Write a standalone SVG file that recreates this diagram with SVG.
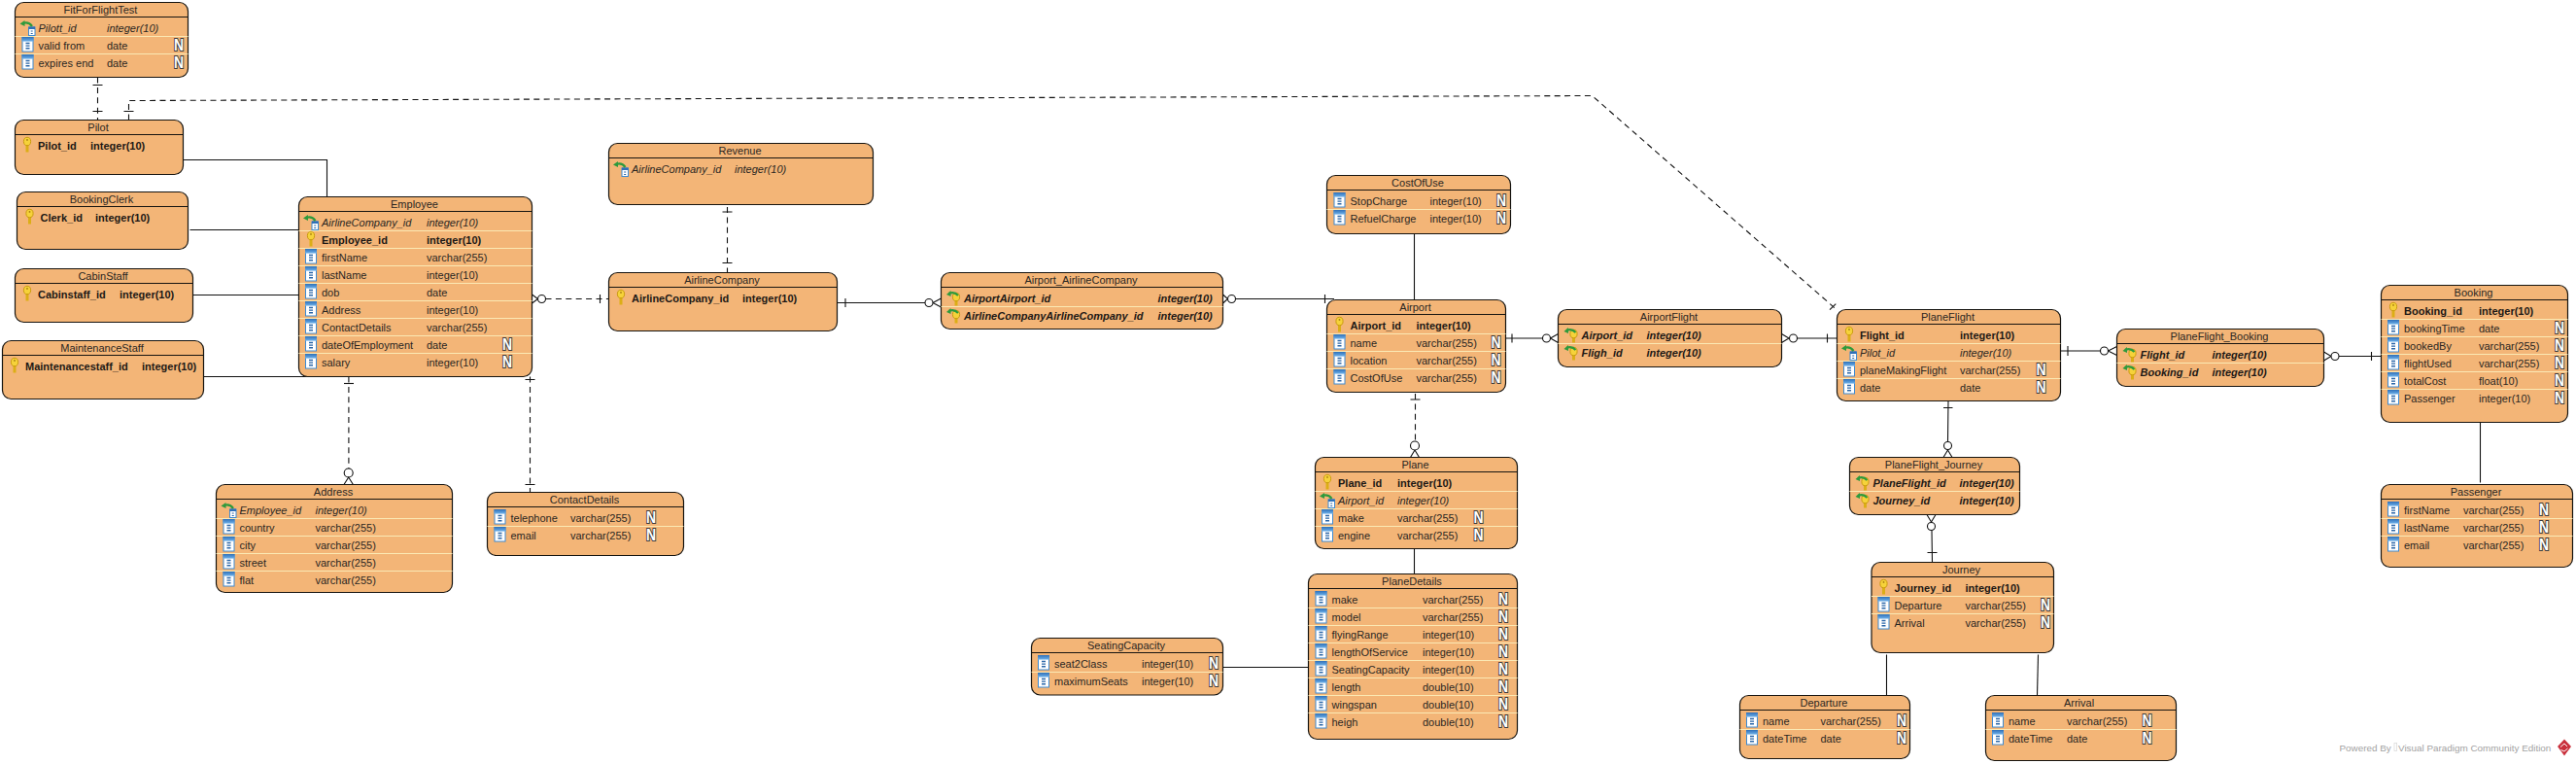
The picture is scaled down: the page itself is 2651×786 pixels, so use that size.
<svg xmlns="http://www.w3.org/2000/svg" width="2651" height="786" viewBox="0 0 2651 786">
<style>
text{font-family:"Liberation Sans",Arial,sans-serif;font-size:11px;fill:#2a2622}
.t{text-anchor:middle}
.b{font-weight:bold;fill:#1c1815}
.i{font-style:italic}
.bi{font-weight:bold;font-style:italic;fill:#1c1815}
.n{font-weight:bold;font-size:17px;fill:#fff;stroke:#3c3c3c;stroke-width:2.2px;paint-order:stroke;text-anchor:middle;transform-box:fill-box;transform-origin:center;transform:scaleX(.82)}
.box{fill:#f3b577;stroke:#161410;stroke-width:1.2}
.h{stroke:#161410;stroke-width:1.2}
.r{stroke:#fbe9b4;stroke-width:1}
#connectors path{fill:none;stroke:#111;stroke-width:1.1}
#connectors .d{stroke-dasharray:6 4.4}
#connectors circle{fill:#fff;stroke:#111;stroke-width:1.1}
.w{font-size:9.9px;fill:#a2a2a2}
</style>
<defs>
<linearGradient id="bl" x1="0" y1="0" x2="0" y2="1"><stop offset="0" stop-color="#2f6fb8"/><stop offset="1" stop-color="#6fb2ea"/></linearGradient>
<g id="c"><rect x="2.5" y="1" width="11" height="14.5" fill="#fff" stroke="#3d8ad2"/><rect x="2" y=".5" width="12" height="4.6" fill="url(#bl)"/><path d="M6 7h4M6 9.6h4M6 12.2h4" stroke="#2a66a8" stroke-width="1.4"/></g>
<g id="k"><path d="M8 8v8" stroke="#dcae16" stroke-width="3" fill="none"/><ellipse cx="8" cy="5" rx="3.6" ry="4.2" fill="#f6d23a" stroke="#c99a10"/><circle cx="8" cy="3.4" r=".9" fill="#a67c10"/></g>
<g id="f"><rect x="9" y="8.5" width="6.5" height="8.5" fill="#fff" stroke="#3d8ad2"/><rect x="9" y="8" width="6.5" height="2.5" fill="#2f6fb8"/><path d="M11.2 12.5h2M11.2 15h2" stroke="#2a66a8"/><path d="M3 4.5Q9 2.5 12.5 7.5" fill="none" stroke="#2e9a3c" stroke-width="2.2"/><path d="M0 5 5 1.5 5 7.5Z" fill="#2e9a3c"/></g>
<g id="p"><path d="M11 10v7" stroke="#dcae16" stroke-width="3" fill="none"/><ellipse cx="11" cy="8" rx="3.6" ry="4.2" fill="#f6d23a" stroke="#c99a10"/><path d="M3.5 4.5Q9 2 13 6.5" fill="none" stroke="#2e9a3c" stroke-width="2.2"/><path d="M1 5.5 5.5 1.5 5.5 7.5Z" fill="#2e9a3c"/></g>
</defs>
<rect width="2651" height="786" fill="#fff"/>
<g id="connectors">
<path class="d" d="M100.5 79.5V123.5"/><path d="M95.5 87.5h10M95.5 114.5h10"/>
<path class="d" d="M132.5 123.5V103.5L1638.5 98.5L1890 318.5"/><path d="M127.5 114.5h10M1883 318.7L1889.3 312.7"/>
<path d="M188.5 164.5H336.5V202.5"/>
<path d="M195.5 236.5H307.5"/>
<path d="M198 303.5H307.5"/>
<path d="M209 387.5H340"/>
<path d="M547.5 303L553.5 307.5L547.5 312"/><circle cx="557.5" cy="307.5" r="4"/><path class="d" d="M561.5 307.5H626.5"/><path d="M617.5 303v9"/>
<path class="d" d="M358.9 387.5V482"/><path d="M354 394.5h10"/><circle cx="358.7" cy="486.5" r="4.5"/><path d="M354 498.5L358.7 491L363.4 498.5"/>
<path class="d" d="M545.5 387.5V506.5"/><path d="M540.5 390.5h10M540.5 498.5h10"/>
<path class="d" d="M748.5 213V280.5"/><path d="M743.5 218h10M743.5 270.5h10"/>
<path d="M862 311.5H952M870 307v9M968.5 307L960 311.5L968.5 316"/><circle cx="956" cy="311.5" r="4"/>
<path d="M1258.5 303L1263.5 307.5L1258.5 312M1271.5 307.5H1373M1363.5 303v9"/><circle cx="1267.5" cy="307.5" r="4"/>
<path d="M1455.5 240.5V308.5"/>
<path class="d" d="M1456.5 405V454"/><path d="M1451.5 411h10M1451.5 470.5L1456 463L1460.5 470.5"/><circle cx="1456" cy="458.5" r="4.5"/>
<path d="M1455.5 565V590.5"/>
<path d="M1258 686.5H1347"/>
<path d="M1549.5 348H1587M1556 343.5v9M1603.5 343.5L1595.5 348L1603.5 352.5"/><circle cx="1591.5" cy="348" r="4"/>
<path d="M1833.5 343.5L1841 348L1833.5 352.5M1849.5 348H1890.5M1880.5 343.5v9"/><circle cx="1845.5" cy="348" r="4"/>
<path d="M2005 412.5L2004.5 454M2000 419.5h9.5M2000 470.5L2004.5 463L2009 470.5"/><circle cx="2004.5" cy="458.5" r="4"/>
<path d="M1983 529.5L1987.5 537L1992 529.5M1988 545.5L1988.5 578.5M1983.5 568.5h10"/><circle cx="1987.5" cy="541.5" r="4"/>
<path d="M2120.5 361H2161M2128 356v10M2178.5 356.5L2169.5 361L2178.5 365.5"/><circle cx="2165.5" cy="361" r="4"/>
<path d="M2391.5 362L2399 366.5L2391.5 371M2407 366.5H2450.5M2440.5 362v9"/><circle cx="2403" cy="366.5" r="4"/>
<path d="M2552.5 435V496.5"/>
<path d="M1941.5 673.5V715.5"/>
<path d="M2097.5 673.5L2096.5 715.5"/>
</g>
<g id="FitForFlightTest" transform="translate(15.5 2.5)"><rect class="box" width="178" height="77" rx="9"/><path class="h" d="M0 15h178"/><path class="r" d="M0 35h178M0 53h178"/><text class="t" x="88" y="11.5">FitForFlightTest</text>
<use href="#f" x="5" y="17"/><text class="i" x="24" y="30">Pilott_id</text><text class="i" x="94.5" y="30">integer(10)</text>
<use href="#c" x="5" y="35"/><text x="24" y="48">valid from</text><text x="94.5" y="48">date</text><text class="n" x="168.5" y="50">N</text>
<use href="#c" x="5" y="53"/><text x="24" y="66">expires end</text><text x="94.5" y="66">date</text><text class="n" x="168.5" y="68">N</text></g>
<g id="Pilot" transform="translate(15.5 123.5)"><rect class="box" width="173" height="56" rx="9"/><path class="h" d="M0 15h173"/><text class="t" x="85.5" y="11.5">Pilot</text>
<use href="#k" x="4.5" y="17"/><text class="b" x="23.5" y="30">Pilot_id</text><text class="b" x="77.5" y="30">integer(10)</text></g>
<g id="BookingClerk" transform="translate(17.5 197.5)"><rect class="box" width="176" height="59" rx="9"/><path class="h" d="M0 15h176"/><text class="t" x="87" y="11.5">BookingClerk</text>
<use href="#k" x="5" y="17"/><text class="b" x="24" y="30">Clerk_id</text><text class="b" x="80.5" y="30">integer(10)</text></g>
<g id="CabinStaff" transform="translate(15.5 276.5)"><rect class="box" width="183" height="55" rx="9"/><path class="h" d="M0 15h183"/><text class="t" x="90.5" y="11.5">CabinStaff</text>
<use href="#k" x="4.5" y="17"/><text class="b" x="23.5" y="30">Cabinstaff_id</text><text class="b" x="107.5" y="30">integer(10)</text></g>
<g id="MaintenanceStaff" transform="translate(2.5 350.5)"><rect class="box" width="207" height="60" rx="9"/><path class="h" d="M0 15h207"/><text class="t" x="102.5" y="11.5">MaintenanceStaff</text>
<use href="#k" x="4.5" y="17"/><text class="b" x="23.5" y="30">Maintenancestaff_id</text><text class="b" x="143.5" y="30">integer(10)</text></g>
<g id="Employee" transform="translate(307.5 202.5)"><rect class="box" width="240" height="185" rx="9"/><path class="h" d="M0 15h240"/><path class="r" d="M0 35h240M0 53h240M0 71h240M0 89h240M0 107h240M0 125h240M0 143h240M0 161h240"/><text class="t" x="119" y="11.5">Employee</text>
<use href="#f" x="4.5" y="17"/><text class="i" x="23.5" y="30">AirlineCompany_id</text><text class="i" x="131.5" y="30">integer(10)</text>
<use href="#k" x="4.5" y="35"/><text class="b" x="23.5" y="48">Employee_id</text><text class="b" x="131.5" y="48">integer(10)</text>
<use href="#c" x="4.5" y="53"/><text x="23.5" y="66">firstName</text><text x="131.5" y="66">varchar(255)</text>
<use href="#c" x="4.5" y="71"/><text x="23.5" y="84">lastName</text><text x="131.5" y="84">integer(10)</text>
<use href="#c" x="4.5" y="89"/><text x="23.5" y="102">dob</text><text x="131.5" y="102">date</text>
<use href="#c" x="4.5" y="107"/><text x="23.5" y="120">Address</text><text x="131.5" y="120">integer(10)</text>
<use href="#c" x="4.5" y="125"/><text x="23.5" y="138">ContactDetails</text><text x="131.5" y="138">varchar(255)</text>
<use href="#c" x="4.5" y="143"/><text x="23.5" y="156">dateOfEmployment</text><text x="131.5" y="156">date</text><text class="n" x="214.5" y="158">N</text>
<use href="#c" x="4.5" y="161"/><text x="23.5" y="174">salary</text><text x="131.5" y="174">integer(10)</text><text class="n" x="214.5" y="176">N</text></g>
<g id="Address" transform="translate(222.5 498.5)"><rect class="box" width="243" height="111" rx="9"/><path class="h" d="M0 15h243"/><path class="r" d="M0 35h243M0 53h243M0 71h243M0 89h243"/><text class="t" x="120.5" y="11.5">Address</text>
<use href="#f" x="5" y="17"/><text class="i" x="24" y="30">Employee_id</text><text class="i" x="102" y="30">integer(10)</text>
<use href="#c" x="5" y="35"/><text x="24" y="48">country</text><text x="102" y="48">varchar(255)</text>
<use href="#c" x="5" y="53"/><text x="24" y="66">city</text><text x="102" y="66">varchar(255)</text>
<use href="#c" x="5" y="71"/><text x="24" y="84">street</text><text x="102" y="84">varchar(255)</text>
<use href="#c" x="5" y="89"/><text x="24" y="102">flat</text><text x="102" y="102">varchar(255)</text></g>
<g id="ContactDetails" transform="translate(501.5 506.5)"><rect class="box" width="202" height="65" rx="9"/><path class="h" d="M0 15h202"/><path class="r" d="M0 35h202"/><text class="t" x="100" y="11.5">ContactDetails</text>
<use href="#c" x="5" y="17"/><text x="24" y="30">telephone</text><text x="85.5" y="30">varchar(255)</text><text class="n" x="168.5" y="32">N</text>
<use href="#c" x="5" y="35"/><text x="24" y="48">email</text><text x="85.5" y="48">varchar(255)</text><text class="n" x="168.5" y="50">N</text></g>
<g id="Revenue" transform="translate(626.5 147.5)"><rect class="box" width="272" height="63" rx="9"/><path class="h" d="M0 15h272"/><text class="t" x="135" y="11.5">Revenue</text>
<use href="#f" x="4.5" y="17"/><text class="i" x="23.5" y="30">AirlineCompany_id</text><text class="i" x="129.5" y="30">integer(10)</text></g>
<g id="AirlineCompany" transform="translate(626.5 280.5)"><rect class="box" width="235" height="60" rx="9"/><path class="h" d="M0 15h235"/><text class="t" x="116.5" y="11.5">AirlineCompany</text>
<use href="#k" x="4.5" y="17"/><text class="b" x="23.5" y="30">AirlineCompany_id</text><text class="b" x="137.5" y="30">integer(10)</text></g>
<g id="Airport_AirlineCompany" transform="translate(968.5 280.5)"><rect class="box" width="290" height="58" rx="9"/><path class="h" d="M0 15h290"/><path class="r" d="M0 35h290"/><text class="t" x="144" y="11.5">Airport_AirlineCompany</text>
<use href="#p" x="4.5" y="17"/><text class="bi" x="23.5" y="30">AirportAirport_id</text><text class="bi" x="223" y="30">integer(10)</text>
<use href="#p" x="4.5" y="35"/><text class="bi" x="23.5" y="48">AirlineCompanyAirlineCompany_id</text><text class="bi" x="223" y="48">integer(10)</text></g>
<g id="CostOfUse" transform="translate(1365.5 180.5)"><rect class="box" width="189" height="60" rx="9"/><path class="h" d="M0 15h189"/><path class="r" d="M0 35h189"/><text class="t" x="93.5" y="11.5">CostOfUse</text>
<use href="#c" x="5" y="17"/><text x="24" y="30">StopCharge</text><text x="106" y="30">integer(10)</text><text class="n" x="179.5" y="32">N</text>
<use href="#c" x="5" y="35"/><text x="24" y="48">RefuelCharge</text><text x="106" y="48">integer(10)</text><text class="n" x="179.5" y="50">N</text></g>
<g id="Airport" transform="translate(1365.5 308.5)"><rect class="box" width="184" height="95" rx="9"/><path class="h" d="M0 15h184"/><path class="r" d="M0 35h184M0 53h184M0 71h184"/><text class="t" x="91" y="11.5">Airport</text>
<use href="#k" x="5" y="17"/><text class="b" x="24" y="30">Airport_id</text><text class="b" x="92" y="30">integer(10)</text>
<use href="#c" x="5" y="35"/><text x="24" y="48">name</text><text x="92" y="48">varchar(255)</text><text class="n" x="174" y="50">N</text>
<use href="#c" x="5" y="53"/><text x="24" y="66">location</text><text x="92" y="66">varchar(255)</text><text class="n" x="174" y="68">N</text>
<use href="#c" x="5" y="71"/><text x="24" y="84">CostOfUse</text><text x="92" y="84">varchar(255)</text><text class="n" x="174" y="86">N</text></g>
<g id="Plane" transform="translate(1353.5 470.5)"><rect class="box" width="208" height="94" rx="9"/><path class="h" d="M0 15h208"/><path class="r" d="M0 35h208M0 53h208M0 71h208"/><text class="t" x="103" y="11.5">Plane</text>
<use href="#k" x="4.5" y="17"/><text class="b" x="23.5" y="30">Plane_id</text><text class="b" x="84.5" y="30">integer(10)</text>
<use href="#f" x="4.5" y="35"/><text class="i" x="23.5" y="48">Airport_id</text><text class="i" x="84.5" y="48">integer(10)</text>
<use href="#c" x="4.5" y="53"/><text x="23.5" y="66">make</text><text x="84.5" y="66">varchar(255)</text><text class="n" x="168" y="68">N</text>
<use href="#c" x="4.5" y="71"/><text x="23.5" y="84">engine</text><text x="84.5" y="84">varchar(255)</text><text class="n" x="168" y="86">N</text></g>
<g id="PlaneDetails" transform="translate(1346.5 590.5)"><rect class="box" width="215" height="170" rx="9"/><path class="h" d="M0 15h215"/><path class="r" d="M0 35h215M0 53h215M0 71h215M0 89h215M0 107h215M0 125h215M0 143h215"/><text class="t" x="106.5" y="11.5">PlaneDetails</text>
<use href="#c" x="5" y="17"/><text x="24" y="30">make</text><text x="117.5" y="30">varchar(255)</text><text class="n" x="200.5" y="32">N</text>
<use href="#c" x="5" y="35"/><text x="24" y="48">model</text><text x="117.5" y="48">varchar(255)</text><text class="n" x="200.5" y="50">N</text>
<use href="#c" x="5" y="53"/><text x="24" y="66">flyingRange</text><text x="117.5" y="66">integer(10)</text><text class="n" x="200.5" y="68">N</text>
<use href="#c" x="5" y="71"/><text x="24" y="84">lengthOfService</text><text x="117.5" y="84">integer(10)</text><text class="n" x="200.5" y="86">N</text>
<use href="#c" x="5" y="89"/><text x="24" y="102">SeatingCapacity</text><text x="117.5" y="102">integer(10)</text><text class="n" x="200.5" y="104">N</text>
<use href="#c" x="5" y="107"/><text x="24" y="120">length</text><text x="117.5" y="120">double(10)</text><text class="n" x="200.5" y="122">N</text>
<use href="#c" x="5" y="125"/><text x="24" y="138">wingspan</text><text x="117.5" y="138">double(10)</text><text class="n" x="200.5" y="140">N</text>
<use href="#c" x="5" y="143"/><text x="24" y="156">heigh</text><text x="117.5" y="156">double(10)</text><text class="n" x="200.5" y="158">N</text></g>
<g id="SeatingCapacity" transform="translate(1061.5 656.5)"><rect class="box" width="197" height="58.5" rx="9"/><path class="h" d="M0 15h197"/><path class="r" d="M0 35h197"/><text class="t" x="97.5" y="11.5">SeatingCapacity</text>
<use href="#c" x="4.5" y="17"/><text x="23.5" y="30">seat2Class</text><text x="113.5" y="30">integer(10)</text><text class="n" x="187.5" y="32">N</text>
<use href="#c" x="4.5" y="35"/><text x="23.5" y="48">maximumSeats</text><text x="113.5" y="48">integer(10)</text><text class="n" x="187.5" y="50">N</text></g>
<g id="AirportFlight" transform="translate(1603.5 318.5)"><rect class="box" width="230" height="59" rx="9"/><path class="h" d="M0 15h230"/><path class="r" d="M0 35h230"/><text class="t" x="114" y="11.5">AirportFlight</text>
<use href="#p" x="5" y="17"/><text class="bi" x="24" y="30">Airport_id</text><text class="bi" x="91" y="30">integer(10)</text>
<use href="#p" x="5" y="35"/><text class="bi" x="24" y="48">Fligh_id</text><text class="bi" x="91" y="48">integer(10)</text></g>
<g id="PlaneFlight" transform="translate(1890.5 318.5)"><rect class="box" width="230" height="94" rx="9"/><path class="h" d="M0 15h230"/><path class="r" d="M0 35h230M0 53h230M0 71h230"/><text class="t" x="114" y="11.5">PlaneFlight</text>
<use href="#k" x="4.5" y="17"/><text class="b" x="23.5" y="30">Flight_id</text><text class="b" x="126.5" y="30">integer(10)</text>
<use href="#f" x="4.5" y="35"/><text class="i" x="23.5" y="48">Pilot_id</text><text class="i" x="126.5" y="48">integer(10)</text>
<use href="#c" x="4.5" y="53"/><text x="23.5" y="66">planeMakingFlight</text><text x="126.5" y="66">varchar(255)</text><text class="n" x="210" y="68">N</text>
<use href="#c" x="4.5" y="71"/><text x="23.5" y="84">date</text><text x="126.5" y="84">date</text><text class="n" x="210" y="86">N</text></g>
<g id="PlaneFlight_Journey" transform="translate(1903.5 470.5)"><rect class="box" width="175" height="59" rx="9"/><path class="h" d="M0 15h175"/><path class="r" d="M0 35h175"/><text class="t" x="86.5" y="11.5">PlaneFlight_Journey</text>
<use href="#p" x="5" y="17"/><text class="bi" x="24" y="30">PlaneFlight_id</text><text class="bi" x="113" y="30">integer(10)</text>
<use href="#p" x="5" y="35"/><text class="bi" x="24" y="48">Journey_id</text><text class="bi" x="113" y="48">integer(10)</text></g>
<g id="Journey" transform="translate(1926 578.5)"><rect class="box" width="187.5" height="93" rx="9"/><path class="h" d="M0 15h187.5"/><path class="r" d="M0 35h187.5M0 53h187.5"/><text class="t" x="92.5" y="11.5">Journey</text>
<use href="#k" x="4.5" y="17"/><text class="b" x="23.5" y="30">Journey_id</text><text class="b" x="96.5" y="30">integer(10)</text>
<use href="#c" x="4.5" y="35"/><text x="23.5" y="48">Departure</text><text x="96.5" y="48">varchar(255)</text><text class="n" x="179" y="50">N</text>
<use href="#c" x="4.5" y="53"/><text x="23.5" y="66">Arrival</text><text x="96.5" y="66">varchar(255)</text><text class="n" x="179" y="68">N</text></g>
<g id="Departure" transform="translate(1790.5 715.5)"><rect class="box" width="175" height="65" rx="9"/><path class="h" d="M0 15h175"/><path class="r" d="M0 35h175"/><text class="t" x="86.5" y="11.5">Departure</text>
<use href="#c" x="4.5" y="17"/><text x="23.5" y="30">name</text><text x="83" y="30">varchar(255)</text><text class="n" x="166.5" y="32">N</text>
<use href="#c" x="4.5" y="35"/><text x="23.5" y="48">dateTime</text><text x="83" y="48">date</text><text class="n" x="166.5" y="50">N</text></g>
<g id="Arrival" transform="translate(2043.5 715.5)"><rect class="box" width="196" height="67" rx="9"/><path class="h" d="M0 15h196"/><path class="r" d="M0 35h196"/><text class="t" x="96" y="11.5">Arrival</text>
<use href="#c" x="4.5" y="17"/><text x="23.5" y="30">name</text><text x="83.5" y="30">varchar(255)</text><text class="n" x="166" y="32">N</text>
<use href="#c" x="4.5" y="35"/><text x="23.5" y="48">dateTime</text><text x="83.5" y="48">date</text><text class="n" x="166" y="50">N</text></g>
<g id="PlaneFlight_Booking" transform="translate(2178.5 338.5)"><rect class="box" width="213" height="59" rx="9"/><path class="h" d="M0 15h213"/><path class="r" d="M0 35h213"/><text class="t" x="105.5" y="11.5">PlaneFlight_Booking</text>
<use href="#p" x="5" y="17"/><text class="bi" x="24" y="30">Flight_id</text><text class="bi" x="98" y="30">integer(10)</text>
<use href="#p" x="5" y="35"/><text class="bi" x="24" y="48">Booking_id</text><text class="bi" x="98" y="48">integer(10)</text></g>
<g id="Booking" transform="translate(2450.5 293.5)"><rect class="box" width="192" height="141" rx="9"/><path class="h" d="M0 15h192"/><path class="r" d="M0 35h192M0 53h192M0 71h192M0 89h192M0 107h192"/><text class="t" x="95" y="11.5">Booking</text>
<use href="#k" x="4.5" y="17"/><text class="b" x="23.5" y="30">Booking_id</text><text class="b" x="100.5" y="30">integer(10)</text>
<use href="#c" x="4.5" y="35"/><text x="23.5" y="48">bookingTime</text><text x="100.5" y="48">date</text><text class="n" x="183.5" y="50">N</text>
<use href="#c" x="4.5" y="53"/><text x="23.5" y="66">bookedBy</text><text x="100.5" y="66">varchar(255)</text><text class="n" x="183.5" y="68">N</text>
<use href="#c" x="4.5" y="71"/><text x="23.5" y="84">flightUsed</text><text x="100.5" y="84">varchar(255)</text><text class="n" x="183.5" y="86">N</text>
<use href="#c" x="4.5" y="89"/><text x="23.5" y="102">totalCost</text><text x="100.5" y="102">float(10)</text><text class="n" x="183.5" y="104">N</text>
<use href="#c" x="4.5" y="107"/><text x="23.5" y="120">Passenger</text><text x="100.5" y="120">integer(10)</text><text class="n" x="183.5" y="122">N</text></g>
<g id="Passenger" transform="translate(2450.5 498.5)"><rect class="box" width="197" height="85" rx="9"/><path class="h" d="M0 15h197"/><path class="r" d="M0 35h197M0 53h197"/><text class="t" x="97.5" y="11.5">Passenger</text>
<use href="#c" x="4.5" y="17"/><text x="23.5" y="30">firstName</text><text x="84.5" y="30">varchar(255)</text><text class="n" x="167.5" y="32">N</text>
<use href="#c" x="4.5" y="35"/><text x="23.5" y="48">lastName</text><text x="84.5" y="48">varchar(255)</text><text class="n" x="167.5" y="50">N</text>
<use href="#c" x="4.5" y="53"/><text x="23.5" y="66">email</text><text x="84.5" y="66">varchar(255)</text><text class="n" x="167.5" y="68">N</text></g>
<text class="w" x="2407.5" y="773">Powered By</text><rect x="2464" y="764.5" width="2.6" height="8" fill="none" stroke="#dcdcdc" stroke-width=".8"/><text class="w" x="2468" y="773">Visual Paradigm Community Edition</text>
<path d="M2639 760.5L2646 768L2639 777.5L2632 768Z" fill="#c9303c"/><path d="M2635 768.5L2639 765L2642 768M2635.5 771.5L2639 773L2642.5 770" fill="none" stroke="#fff" stroke-width="1"/>
</svg>
